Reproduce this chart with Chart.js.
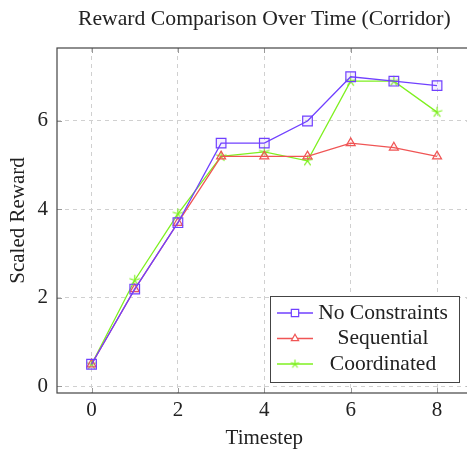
<!DOCTYPE html>
<html>
<head>
<meta charset="utf-8">
<script src="https://cdn.jsdelivr.net/npm/chart.js@4"></script>
<style>
  html, body { margin:0; padding:0; background:#fff; overflow:hidden; }
  #wrap { width:480px; height:451px; }
</style>
</head>
<body>
<div id="wrap"><canvas id="c" width="480" height="451"></canvas></div>
<script>
/* données : récompense normalisée par pas de temps */
const timesteps     = [0, 1, 2, 3, 4, 5, 6, 7, 8];
const noConstraints = [0.5, 2.2, 3.7, 5.5, 5.5, 6.0, 7.0, 6.9, 6.8];
const sequential    = [0.5, 2.2, 3.7, 5.2, 5.2, 5.2, 5.5, 5.4, 5.2];
const coordinated   = [0.5, 2.4, 3.9, 5.2, 5.3, 5.1, 6.9, 6.9, 6.2];
const xTicks = [0, 2, 4, 6, 8];
const yTicks = [0, 2, 4, 6];

const SERIF = "'Liberation Serif', 'DejaVu Serif', serif";
const INK = '#222';
const GREEN = '#7ff020';

const pts = arr => arr.map((y, i) => ({x: timesteps[i], y}));

/* astérisque à 5 branches (le 'star' de Chart.js en a 8) */
function starImg(r, col){
  const s = Math.ceil(r * 2 + 3), c = document.createElement('canvas');
  c.width = c.height = s;
  const g = c.getContext('2d');
  g.strokeStyle = col; g.lineWidth = 1.2; g.lineCap = 'round';
  g.beginPath();
  for (let k = 0; k < 5; k++) {
    const ang = -Math.PI / 2 + k * 2 * Math.PI / 5;
    g.moveTo(s / 2, s / 2);
    g.lineTo(s / 2 + r * Math.cos(ang), s / 2 + r * Math.sin(ang));
  }
  g.stroke();
  return c;
}
const starBig = starImg(5, GREEN), starSmall = starImg(4, GREEN);

const series = [
  {label:'No Constraints', data:pts(noConstraints), borderColor:'#7040ff',
   pointBackgroundColor:'rgba(112,64,255,0.08)', pointStyle:'rect', pointRadius:6.8, legendR:5.2},
  {label:'Sequential', data:pts(sequential), borderColor:'#f05555',
   pointBackgroundColor:'rgba(240,85,85,0.08)', pointStyle:'triangle', pointRadius:5.2, legendR:4.2},
  {label:'Coordinated', data:pts(coordinated), borderColor:GREEN,
   pointBackgroundColor:'rgba(0,0,0,0)', pointStyle:starBig, pointRadius:5, legendStyle:starSmall}
].map(d => Object.assign(d, {
  borderWidth:1.3, pointBorderColor:d.borderColor, pointBorderWidth:1.2,
  tension:0, fill:false
}));

/* cadre, petites graduations, titre et légende dans le cadre */
const frame = {
  id:'frame',
  beforeDatasetsDraw(ch){
    const {ctx, chartArea:a, scales:{x, y}} = ch;
    ctx.save();
    ctx.strokeStyle = '#999'; ctx.lineWidth = 1;
    xTicks.forEach(v => {
      const px = Math.round(x.getPixelForValue(v)) + 0.5;
      ctx.beginPath();
      ctx.moveTo(px, a.top); ctx.lineTo(px, a.top + 5);
      ctx.moveTo(px, a.bottom); ctx.lineTo(px, a.bottom - 5);
      ctx.stroke();
    });
    yTicks.forEach(v => {
      const py = Math.round(y.getPixelForValue(v)) + 0.5;
      ctx.beginPath();
      ctx.moveTo(a.left, py); ctx.lineTo(a.left + 5, py);
      ctx.moveTo(a.right, py); ctx.lineTo(a.right - 5, py);
      ctx.stroke();
    });
    ctx.restore();
  },
  afterDraw(ch){
    const {ctx, chartArea:a} = ch;
    ctx.save();
    ctx.strokeStyle = '#444'; ctx.lineWidth = 1.2;
    ctx.strokeRect(a.left, a.top, a.right - a.left, a.bottom - a.top);

    ctx.fillStyle = INK;
    ctx.font = `21.7px ${SERIF}`;
    ctx.textAlign = 'center'; ctx.textBaseline = 'middle';
    ctx.fillText('Reward Comparison Over Time (Corridor)', (a.left + a.right) / 2, 19);

    // légende
    const bx = a.right - 201.6, by = a.bottom - 97, bw = 189, bh = 86;
    ctx.fillStyle = '#fff';
    ctx.fillRect(bx, by, bw, bh);
    ctx.strokeStyle = '#444'; ctx.lineWidth = 1;
    ctx.strokeRect(bx + 0.5, by + 0.5, bw, bh);
    ch.data.datasets.forEach((d, i) => {
      const ry = by + 17 + i * 25.5;
      ctx.strokeStyle = d.borderColor; ctx.lineWidth = d.borderWidth;
      ctx.beginPath(); ctx.moveTo(bx + 7, ry); ctx.lineTo(bx + 43, ry); ctx.stroke();
      ctx.fillStyle = '#fff'; ctx.lineWidth = d.pointBorderWidth;
      Chart.helpers.drawPoint(ctx, {pointStyle:d.legendStyle || d.pointStyle,
        radius:d.legendR || 4, borderWidth:d.pointBorderWidth, rotation:0}, bx + 25, ry);
      ctx.fillStyle = INK;
      ctx.font = `21.5px ${SERIF}`;
      ctx.textAlign = 'center'; ctx.textBaseline = 'middle';
      ctx.fillText(d.label, bx + 113, ry);
    });
    ctx.restore();
  }
};

const grid = {color:'#d0d0d0', lineWidth:1, drawTicks:false};

new Chart(document.getElementById('c'), {
  type:'line',
  data:{datasets:series},
  plugins:[frame],
  options:{
    responsive:false, animation:false,
    layout:{padding:{top:48, right:8.4, bottom:0, left:0}},
    plugins:{legend:{display:false}, tooltip:{enabled:false}, title:{display:false}},
    scales:{
      x:{
        type:'linear', min:-0.8, max:8.8,
        afterBuildTicks:s => { s.ticks = xTicks.map(v => ({value:v})); },
        afterFit:s => { s.height = 58; },
        grid, border:{display:false, dash:[4,4]},
        ticks:{color:INK, font:{family:SERIF, size:21}, padding:5},
        title:{display:true, text:'Timestep', color:INK,
               font:{family:SERIF, size:21}, padding:{top:0, bottom:0}}
      },
      y:{
        type:'linear', min:-0.15, max:7.65,
        afterBuildTicks:s => { s.ticks = yTicks.map(v => ({value:v})); },
        afterFit:s => { s.width = 57; },
        grid, border:{display:false, dash:[4,4]},
        ticks:{color:INK, font:{family:SERIF, size:21}, padding:9},
        title:{display:true, text:'Scaled Reward', color:INK,
               font:{family:SERIF, size:21}, padding:{top:6, bottom:0}}
      }
    }
  }
});
</script>
</body>
</html>
